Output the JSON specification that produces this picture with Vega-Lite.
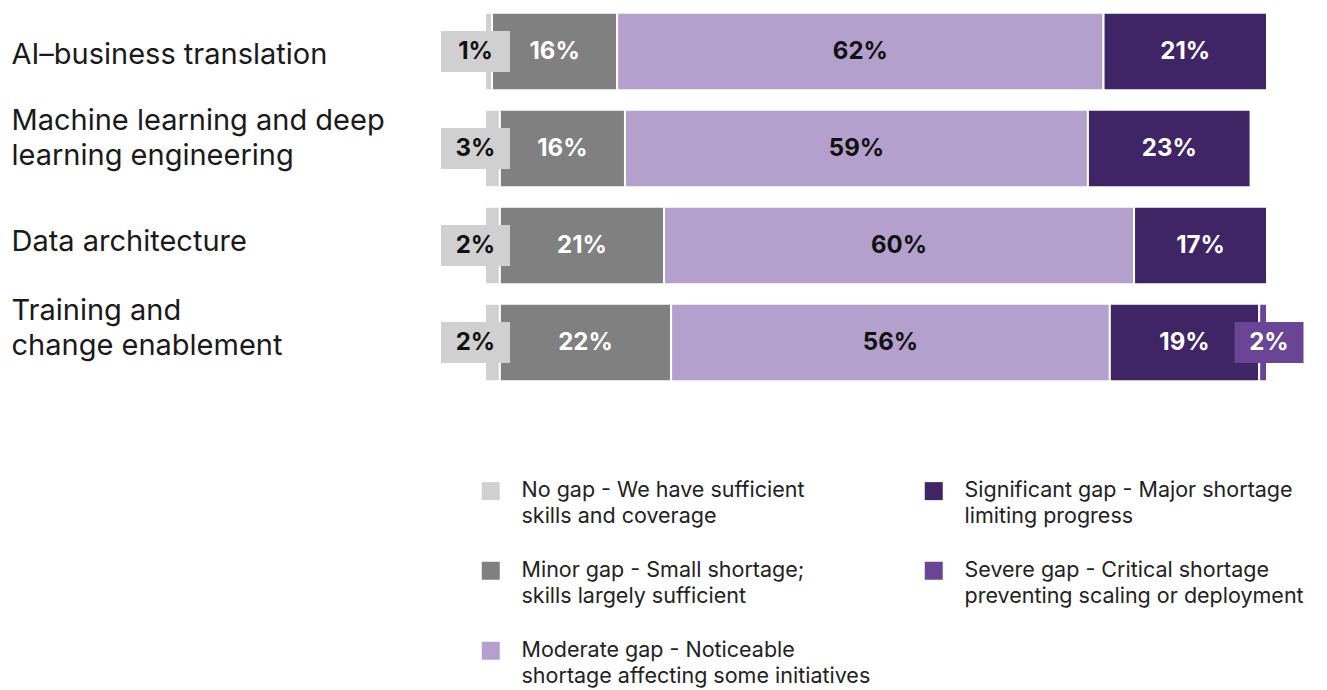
{
  "$schema": "https://vega.github.io/schema/vega-lite/v6.json",
  "autosize": {"type": "none"},
  "width": 782,
  "height": 388,
  "padding": {"left": 485, "top": 3, "right": 60, "bottom": 299},
  "background": "white",
  "config": {"view": {"stroke": null}, "font": "Inter", "style": {"guide-label": {"lineHeight": 26}}},
  "data": {"values": [
    {"skill": "AI–business translation", "gap": "No gap", "rank": 1, "value": 0.9, "label": "1%"},
    {"skill": "AI–business translation", "gap": "Minor gap", "rank": 2, "value": 16.0, "label": "16%"},
    {"skill": "AI–business translation", "gap": "Moderate gap", "rank": 3, "value": 62.2, "label": "62%"},
    {"skill": "AI–business translation", "gap": "Significant gap", "rank": 4, "value": 20.9, "label": "21%"},
    {"skill": "Machine learning and deep learning engineering", "gap": "No gap", "rank": 1, "value": 1.9, "label": "3%"},
    {"skill": "Machine learning and deep learning engineering", "gap": "Minor gap", "rank": 2, "value": 16.0, "label": "16%"},
    {"skill": "Machine learning and deep learning engineering", "gap": "Moderate gap", "rank": 3, "value": 59.2, "label": "59%"},
    {"skill": "Machine learning and deep learning engineering", "gap": "Significant gap", "rank": 4, "value": 20.8, "label": "23%"},
    {"skill": "Data architecture", "gap": "No gap", "rank": 1, "value": 1.9, "label": "2%"},
    {"skill": "Data architecture", "gap": "Minor gap", "rank": 2, "value": 21.0, "label": "21%"},
    {"skill": "Data architecture", "gap": "Moderate gap", "rank": 3, "value": 60.1, "label": "60%"},
    {"skill": "Data architecture", "gap": "Significant gap", "rank": 4, "value": 17.0, "label": "17%"},
    {"skill": "Training and change enablement", "gap": "No gap", "rank": 1, "value": 1.9, "label": "2%"},
    {"skill": "Training and change enablement", "gap": "Minor gap", "rank": 2, "value": 21.9, "label": "22%"},
    {"skill": "Training and change enablement", "gap": "Moderate gap", "rank": 3, "value": 56.1, "label": "56%"},
    {"skill": "Training and change enablement", "gap": "Significant gap", "rank": 4, "value": 19.1, "label": "19%"},
    {"skill": "Training and change enablement", "gap": "Severe gap", "rank": 5, "value": 1.0, "label": "2%"}
  ]},
  "transform": [
    {"stack": "value", "groupby": ["skill"], "sort": [{"field": "rank", "order": "ascending"}], "as": ["x0", "x1"]},
    {"calculate": "(datum.x0 + datum.x1) / 2", "as": "xm"}
  ],
  "encoding": {
    "y": {
      "field": "skill",
      "type": "nominal",
      "sort": ["AI–business translation", "Machine learning and deep learning engineering", "Data architecture", "Training and change enablement"],
      "scale": {"paddingInner": 0.2, "paddingOuter": 0.1},
      "axis": {
        "title": null,
        "domain": false,
        "ticks": false,
        "labelAlign": "left",
        "labelPadding": 474,
        "labelFontSize": 29,
        "labelColor": "#1a1a1a",
        "labelLimit": 500,
        "labelLineHeight": 35,
        "labelBaseline": "middle",
        "labelExpr": "datum.label == 'Machine learning and deep learning engineering' ? ['Machine learning and deep', 'learning engineering'] : datum.label == 'Training and change enablement' ? ['Training and', 'change enablement'] : datum.label",
        "labelOffset": {"condition": [
          {"test": "datum.value == 'AI–business translation'", "value": 3},
          {"test": "datum.value == 'Machine learning and deep learning engineering'", "value": -28},
          {"test": "datum.value == 'Data architecture'", "value": -4},
          {"test": "datum.value == 'Training and change enablement'", "value": -32}
        ], "value": 0}
      }
    }
  },
  "layer": [
    {
      "mark": {"type": "bar", "stroke": "white", "strokeWidth": 2},
      "encoding": {
        "x": {"field": "x0", "type": "quantitative", "scale": {"domain": [0, 100], "nice": false, "zero": true}, "axis": null},
        "x2": {"field": "x1"},
        "color": {
          "field": "gap",
          "type": "nominal",
          "scale": {
            "domain": ["No gap", "Minor gap", "Moderate gap", "Significant gap", "Severe gap"],
            "range": ["#d0d0d0", "#808080", "#b3a0cc", "#3f2565", "#6a4595"]
          },
          "legend": {
            "orient": "none",
            "legendX": -5,
            "legendY": 477,
            "columns": 2,
            "title": null,
            "symbolType": "square",
            "symbolSize": 324,
            "symbolStrokeWidth": 0,
            "symbolOpacity": 1,
            "labelFontSize": 21.5,
            "labelColor": "#222222",
            "labelLimit": 500,
            "labelOffset": 20,
            "labelBaseline": "middle",
            "rowPadding": 31,
            "columnPadding": 52,
            "labelExpr": "datum.label == 'No gap' ? ['No gap - We have sufficient', 'skills and coverage'] : datum.label == 'Minor gap' ? ['Minor gap - Small shortage;', 'skills largely sufficient'] : datum.label == 'Moderate gap' ? ['Moderate gap - Noticeable', 'shortage affecting some initiatives'] : datum.label == 'Significant gap' ? ['Significant gap - Major shortage', 'limiting progress'] : ['Severe gap - Critical shortage', 'preventing scaling or deployment']",
            "encode": {"labels": {"enter": {"lineHeight": {"value": 26}}, "update": {"lineHeight": {"value": 26}}}}
          }
        }
      }
    },
    {
      "transform": [{"filter": "datum.gap == 'Minor gap' || datum.gap == 'Moderate gap' || datum.gap == 'Significant gap'"}],
      "mark": {"type": "text", "fontSize": 24, "fontWeight": "bold", "align": "center", "baseline": "middle"},
      "encoding": {
        "x": {"field": "xm", "type": "quantitative"},
        "text": {"field": "label"},
        "color": {"condition": {"test": "datum.gap == 'Moderate gap'", "value": "#111111"}, "value": "#ffffff"}
      }
    },
    {
      "transform": [{"filter": "datum.gap == 'No gap'"}],
      "mark": {"type": "point", "shape": "M-1,-0.594L1,-0.594L1,0.594L-1,0.594Z", "size": 4761, "filled": true, "opacity": 1, "color": "#d0d0d0", "strokeWidth": 0, "xOffset": -9.5},
      "encoding": {"x": {"field": "x0", "type": "quantitative"}}
    },
    {
      "transform": [{"filter": "datum.gap == 'No gap'"}],
      "mark": {"type": "text", "fontSize": 24, "fontWeight": "bold", "align": "center", "baseline": "middle", "color": "#111111", "xOffset": -9.5},
      "encoding": {"x": {"field": "x0", "type": "quantitative"}, "text": {"field": "label"}}
    },
    {
      "transform": [{"filter": "datum.gap == 'Severe gap'"}],
      "mark": {"type": "point", "shape": "M-1,-0.594L1,-0.594L1,0.594L-1,0.594Z", "size": 4761, "filled": true, "opacity": 1, "color": "#6a4595", "strokeWidth": 0, "xOffset": 2},
      "encoding": {"x": {"field": "x1", "type": "quantitative"}}
    },
    {
      "transform": [{"filter": "datum.gap == 'Severe gap'"}],
      "mark": {"type": "text", "fontSize": 24, "fontWeight": "bold", "align": "center", "baseline": "middle", "color": "#ffffff", "xOffset": 2},
      "encoding": {"x": {"field": "x1", "type": "quantitative"}, "text": {"field": "label"}}
    }
  ]
}
